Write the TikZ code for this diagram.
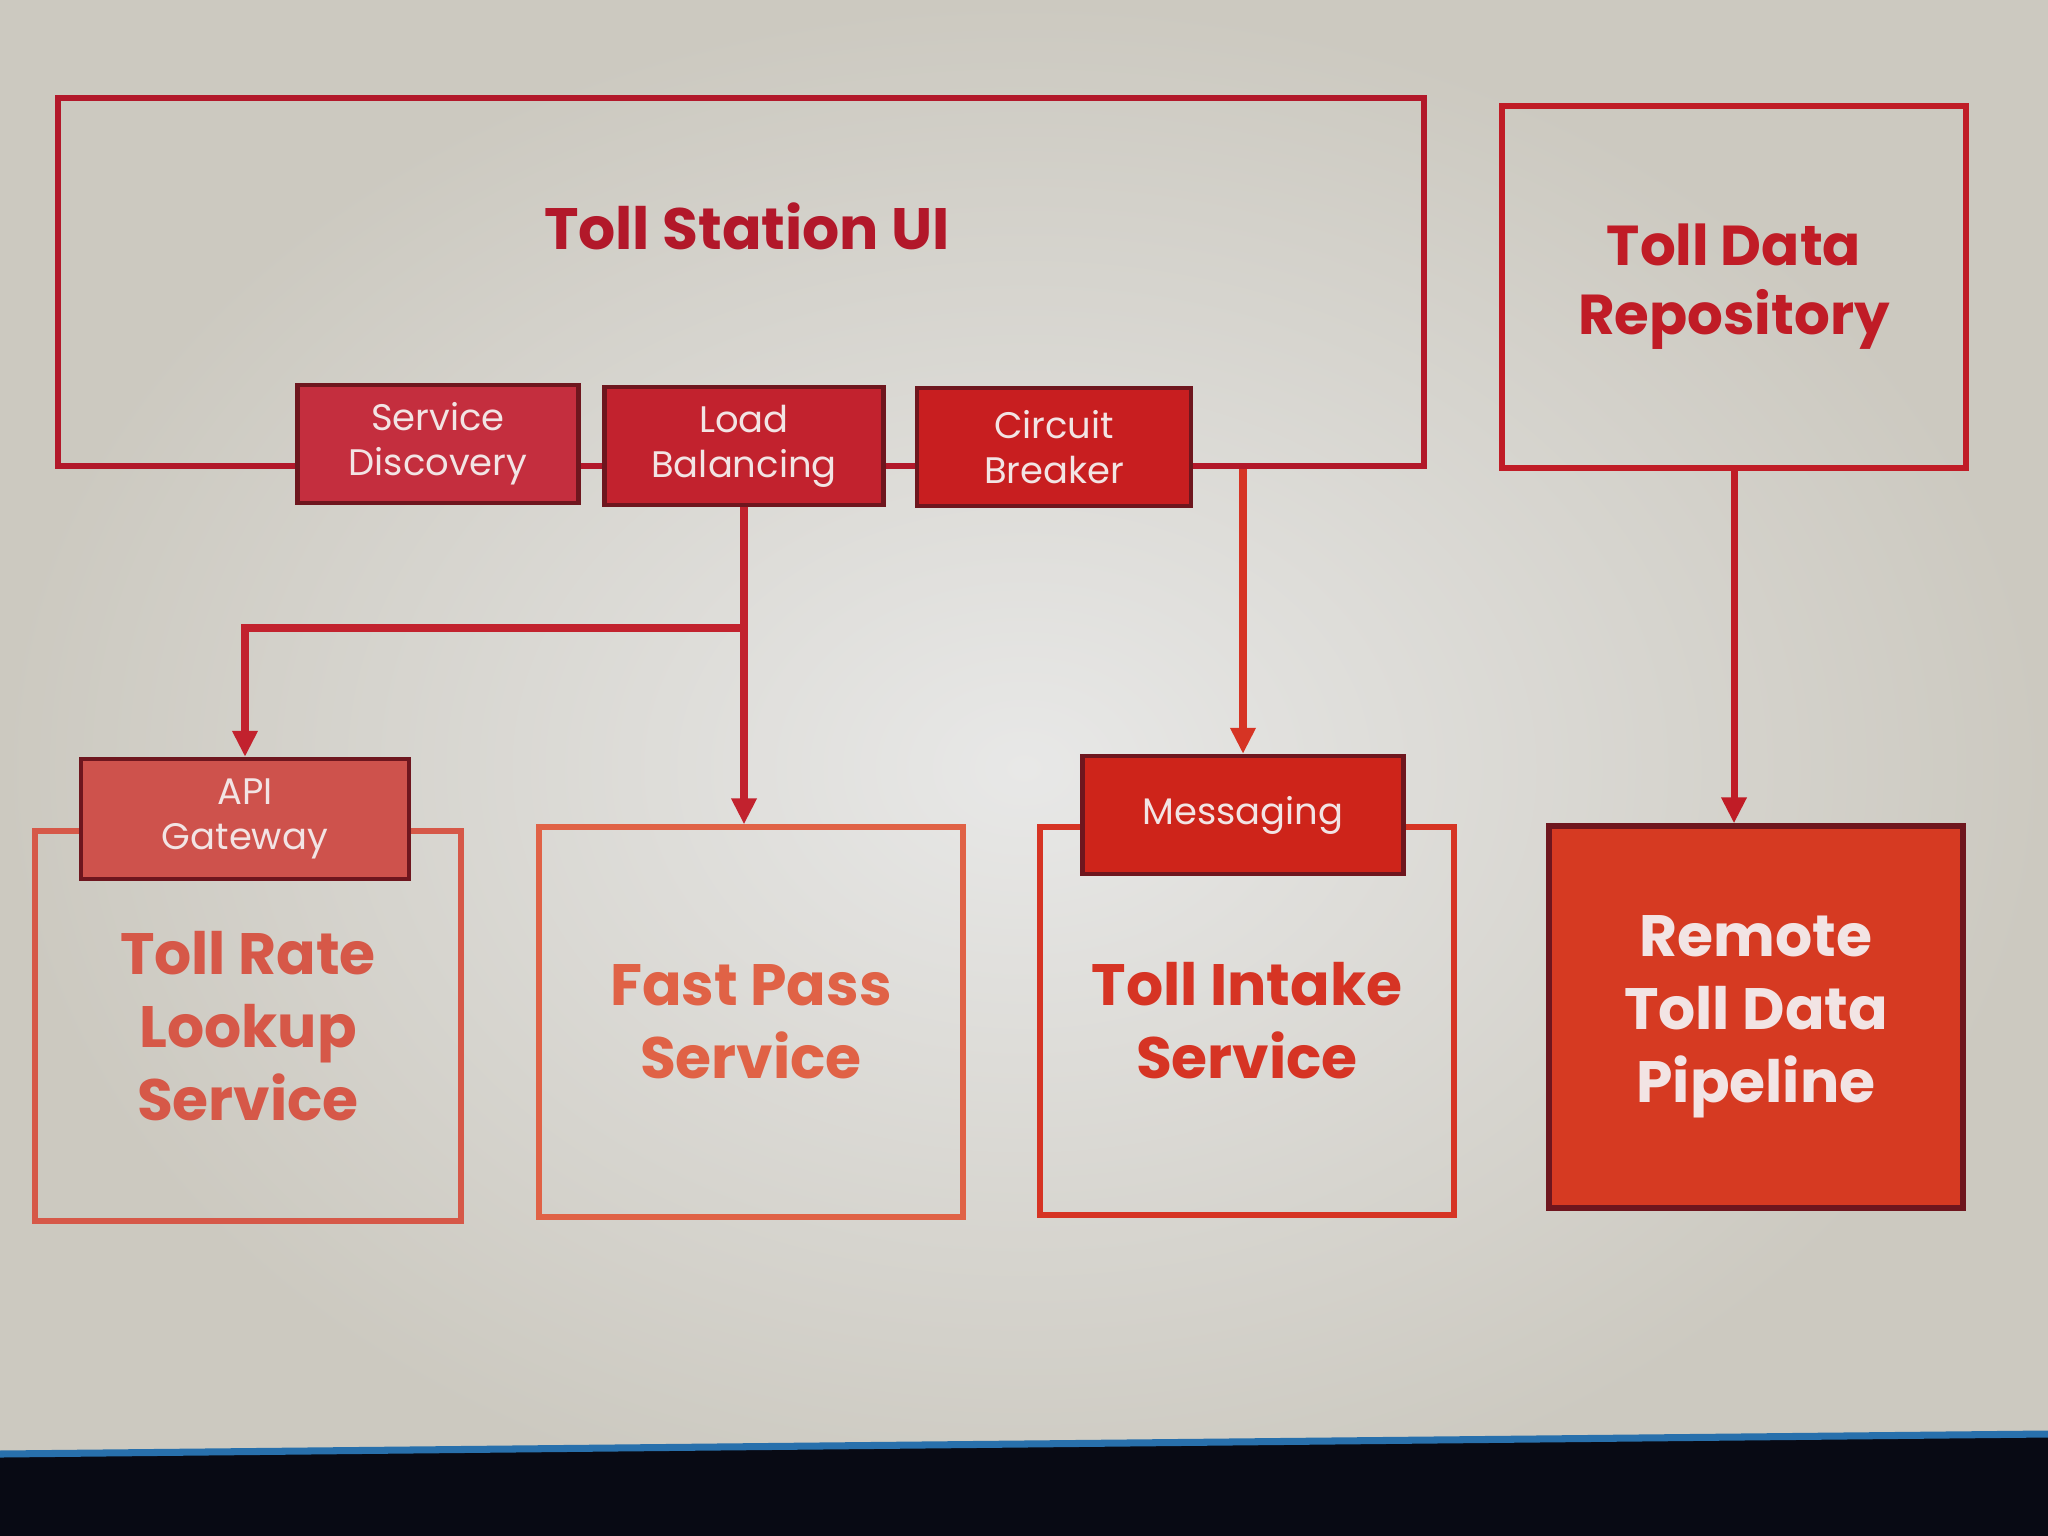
\documentclass[tikz,border=0pt]{standalone}
\usepackage{fontspec}
\setmainfont{Poppins}
\usetikzlibrary{positioning,calc,arrows.meta}
\definecolor{screenin}{RGB}{232,232,231}
\definecolor{screenout}{RGB}{204,201,192}
\definecolor{uired}{RGB}{178,24,42}
\definecolor{repored}{RGB}{192,28,38}
\definecolor{rateorange}{RGB}{214,88,72}
\definecolor{passorange}{RGB}{224,98,70}
\definecolor{intakered}{RGB}{214,52,36}
\definecolor{sdfill}{RGB}{196,46,62}
\definecolor{lbfill}{RGB}{194,34,46}
\definecolor{cbfill}{RGB}{200,30,32}
\definecolor{apifill}{RGB}{206,82,76}
\definecolor{msgfill}{RGB}{206,36,26}
\definecolor{remotefill}{RGB}{214,58,34}
\definecolor{tagedge}{RGB}{110,22,30}
\definecolor{tagtext}{RGB}{242,228,228}
\definecolor{bezelblue}{RGB}{40,112,172}
\definecolor{bezel}{RGB}{8,10,20}

\begin{document}
\begin{tikzpicture}[
        x=0.01cm, y=-0.01cm,
        outline/.style={rectangle, draw=#1, line width=1.7pt, inner sep=0pt, align=center},
        tagbox/.style={rectangle, draw=tagedge, fill=#1, line width=1.2pt, minimum height=1.18cm, align=center, text=tagtext, font=\fontsize{10.5}{12.8}\selectfont},
        bigtext/.style={font=\bfseries\fontsize{16.6}{20.8}\selectfont},
        arrow/.style={-{Triangle[length=0.26cm, width=0.24cm]}, line width=2pt}
    ]
        % Screen
        \useasboundingbox (0,0) rectangle (2048,1536);
        \shade[inner color=screenin, outer color=screenout] (0,0) rectangle (2048,1536);
        \fill[bezel] (0,1456) -- (2048,1436) -- (2048,1536) -- (0,1536) -- cycle;
        \draw[bezelblue, line width=2pt] (0,1454) -- (2048,1434);

        % Upper boxes
        \node[outline=uired, minimum width=13.65cm, minimum height=3.68cm] (ui) at (741,282) {};
        \node[bigtext, text=uired] (uititle) at (747,226) {Toll Station UI};
        \node[outline=repored, text=repored, font=\bfseries\fontsize{16}{19.6}\selectfont, minimum width=4.64cm, minimum height=3.61cm] (repo) at (1734,287) {Toll Data\\Repository};

        % Tags on the UI
        \node[tagbox=sdfill, minimum width=2.81cm] (sd) at (438,444) {Service\\Discovery};
        \node[tagbox=lbfill, minimum width=2.79cm] (lb) at (744,446) {Load\\Balancing};
        \node[tagbox=cbfill, minimum width=2.74cm] (cb) at (1054,447) {Circuit\\Breaker};

        % Services
        \node[outline=rateorange, bigtext, text=rateorange, minimum width=4.26cm, minimum height=3.89cm] (rate) at (248,1026) {Toll Rate\\Lookup\\Service};
        \node[outline=passorange, bigtext, text=passorange, minimum width=4.24cm, minimum height=3.89cm] (pass) at (751,1022) {Fast Pass\\Service};
        \node[outline=intakered, bigtext, text=intakered, minimum width=4.13cm, minimum height=3.87cm] (intake) at (1247,1021) {Toll Intake\\Service};
        \node[outline=tagedge, fill=remotefill, bigtext, text=tagtext, minimum width=4.13cm, minimum height=3.81cm] (remote) at (1756,1017) {Remote\\Toll Data\\Pipeline};

        % Tags on the services
        \node[tagbox=apifill, minimum width=3.28cm, minimum height=1.20cm] (api) at (245,819) {API\\Gateway};
        \node[tagbox=msgfill, minimum width=3.21cm] (msg) at (1243,815) {Messaging};

        % Connectors
        \coordinate (split) at (lb.south |- 0,628);
        \draw[arrow, lbfill] (lb.south) -- (lb.south |- pass.north);
        \draw[arrow, lbfill] (split) -| (api.north);
        \draw[arrow, intakered] (ui.south -| msg.north) -- (msg.north);
        \draw[arrow, repored] (repo.south) -- (repo.south |- remote.north);
    \end{tikzpicture}
\end{document}
